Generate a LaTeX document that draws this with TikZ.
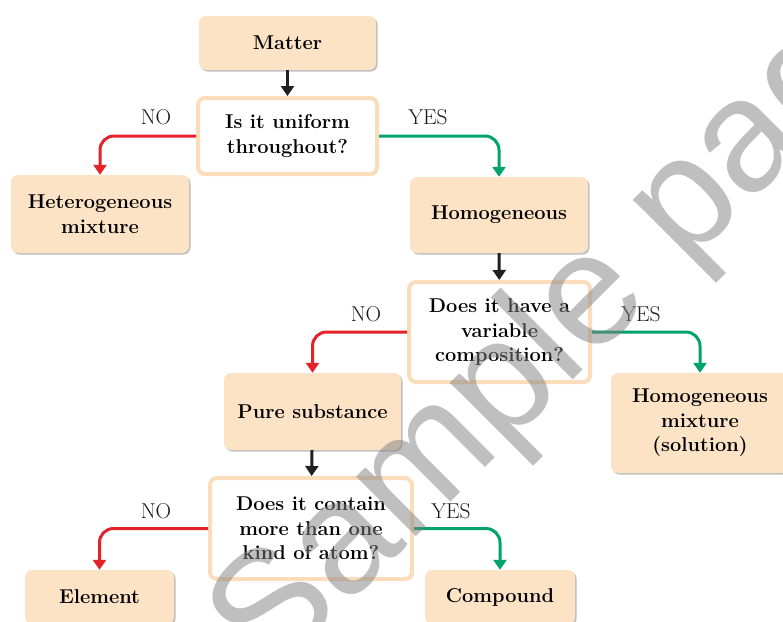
\documentclass[tikz,border=0pt]{standalone}
\usepackage{fontspec}
\newfontfamily\wmfont{Liberation Sans}
\usetikzlibrary{arrows.meta,shadows}
\definecolor{peach}{HTML}{FDE3C6}
\definecolor{peachline}{HTML}{FCDDBB}
\definecolor{nored}{HTML}{E42229}
\definecolor{yesgreen}{HTML}{00A36C}
\definecolor{arrowblack}{HTML}{231F20}
\begin{document}
\begin{tikzpicture}[x=1pt,y=-1pt,
  box/.style={fill=peach, rounded corners=7pt, align=center, inner sep=0pt,
    font=\fontsize{20}{24.5}\selectfont\bfseries, text=black,
    drop shadow={shadow xshift=1.5pt, shadow yshift=-1.5pt, opacity=0.25, fill=black}},
  qbox/.style={box, fill=white, draw=peachline, line width=4pt},
  lab/.style={font=\fontsize{21.5}{24}\selectfont, text=black!90, inner sep=0pt},
  conn/.style={line width=3pt, rounded corners=14pt, -{Triangle[width=13pt,length=10pt]}},
  downarrow/.style={conn, draw=arrowblack},
  noarrow/.style={conn, draw=nored},
  yesarrow/.style={conn, draw=yesgreen}]
\useasboundingbox (0,0) rectangle (783,621);
\fill[white] (0,0) rectangle (783,621);

\node[box, minimum width=177pt, minimum height=54pt] (matter) at (287.5,43) {Matter};
\node[qbox, minimum width=179pt, minimum height=76pt] (q1) at (287.5,136) {Is it uniform\\throughout?};
\node[box, minimum width=178pt, minimum height=78pt] (het) at (100,214) {Heterogeneous\\mixture};
\node[box, minimum width=178pt, minimum height=76pt] (hom) at (499,215) {Homogeneous};
\node[qbox, minimum width=181pt, minimum height=100pt] (q2) at (499.5,332) {Does it have a\\variable\\composition?};
\node[box, minimum width=177pt, minimum height=77pt] (pure) at (312.5,411.5) {Pure substance};
\node[box, minimum width=178pt, minimum height=100pt] (sol) at (700,423) {Homogeneous\\mixture\\(solution)};
\node[qbox, minimum width=202pt, minimum height=101pt] (q3) at (311,528.5) {Does it contain\\more than one\\kind of atom?};
\node[box, minimum width=149pt, minimum height=54pt] (elem) at (99.5,597) {Element};
\node[box, minimum width=150pt, minimum height=54pt] (comp) at (500,597) {Compound};

\draw[downarrow] (matter) -- (q1);
\draw[downarrow] (hom) -- (q2);
\draw[downarrow] (pure) -- (q3);

\draw[noarrow] (q1.west) -| (het.north);
\draw[yesarrow] (q1.east) -| (hom.north);
\draw[noarrow] (q2.west) -| (pure.north);
\draw[yesarrow] (q2.east) -| (sol.north);
\draw[noarrow] (q3.west) -| (elem.north);
\draw[yesarrow] (q3.east) -| (comp.north);

\node[lab] (no1) at (156,117) {NO};
\node[lab] (yes1) at (428,117) {YES};
\node[lab] (no2) at (366,314) {NO};
\node[lab] (yes2) at (641,314) {YES};
\node[lab] (no3) at (156,511) {NO};
\node[lab] (yes3) at (451,511) {YES};

\node[anchor=base west, rotate=45, inner sep=0pt, text=black!50, text opacity=0.5,
  font=\wmfont\fontsize{160}{160}\selectfont] (wm) at (270,683) {Sample page};
\end{tikzpicture}
\end{document}
